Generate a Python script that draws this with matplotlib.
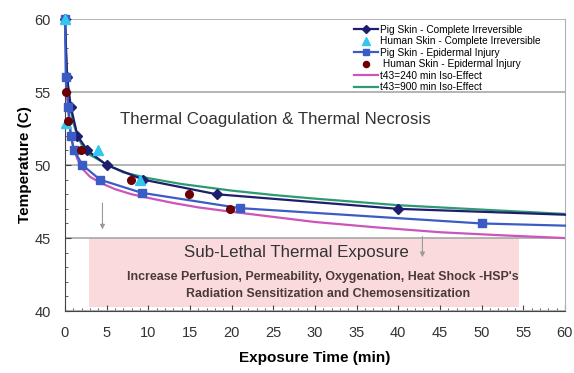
import matplotlib.pyplot as plt
from matplotlib.patches import Rectangle
from matplotlib.ticker import MultipleLocator

plt.rcParams['font.family'] = ['Liberation Sans', 'DejaVu Sans']

# Pig skin - complete irreversible (markers), line extends to 60 min
pig_complete_t = [0, 0.25, 0.7, 1.5, 2.7, 5.0, 9.4, 18.2, 40.0, 60.0]
pig_complete_T = [60, 56, 54, 52, 51, 50, 49, 48, 47, 46.6]

# Human skin - complete irreversible (markers only)
human_complete_t = [0, 0.1, 4.0, 9.0]
human_complete_T = [60, 52.9, 51, 49]

# Pig skin - epidermal injury (markers), line extends to 60 min
pig_epi_t = [0, 0.1, 0.4, 0.7, 1.1, 2.1, 4.2, 9.2, 21.0, 50.0, 60.0]
pig_epi_T = [60, 56, 54, 52, 51, 50, 49, 48.1, 47.05, 46.0, 45.85]

# Human skin - epidermal injury (markers only)
human_epi_t = [0.1, 0.4, 1.9, 7.9, 14.9, 19.8]
human_epi_T = [55, 53, 51, 49, 48, 47]

# iso-effect curves
iso240_t = [0.02, 0.1, 0.2, 0.35, 0.5, 0.75, 1.0, 1.5, 2.0, 3.0, 4.2, 6.0, 8.0, 10.0,
            13.0, 16.0, 20.0, 25.0, 30.0, 37.0, 45.0, 52.0, 60.0]
iso240_T = [60, 57.2, 55.5, 54.0, 52.9, 51.9, 51.2, 50.4, 49.8, 49.2, 48.8, 48.35, 48.0, 47.75,
            47.4, 47.1, 46.8, 46.45, 46.1, 45.75, 45.4, 45.2, 45.0]
iso900_t = [0.02, 0.1, 0.2, 0.35, 0.5, 0.75, 1.0, 1.5, 2.0, 3.0, 5.0, 7.0, 10.0, 14.0,
            20.0, 25.0, 30.0, 40.0, 50.0, 60.0]
iso900_T = [60, 58.0, 56.8, 55.4, 54.6, 53.6, 52.9, 52.0, 51.4, 50.7, 50.05, 49.5, 49.1, 48.7,
            48.25, 47.95, 47.7, 47.25, 46.95, 46.65]

fig = plt.figure(figsize=(5.74, 3.73), dpi=100)
ax = fig.add_axes([0.1132, 0.166, 0.871, 0.783])

# sub-lethal zone
ax.add_patch(Rectangle((2.9, 40.3), 51.6, 4.7, facecolor='#fadadd', edgecolor='none', zorder=0))

ax.plot(pig_complete_t, pig_complete_T, color='#1e1e6e', lw=1.6, marker='D', ms=5.5,
        markevery=list(range(len(pig_complete_t) - 1)), label='Pig Skin - Complete Irreversible',
        zorder=4, clip_on=False)
ax.plot(human_complete_t, human_complete_T, ls='none', color='#33c6ee', marker='^', ms=7,
        label='Human Skin - Complete Irreversible', zorder=5, clip_on=False)
ax.plot(pig_epi_t, pig_epi_T, color='#3a5cc4', lw=1.6, marker='s', ms=5.5,
        markevery=list(range(len(pig_epi_t) - 1)), label='Pig Skin - Epidermal Injury',
        zorder=4, clip_on=False)
ax.plot(human_epi_t, human_epi_T, ls='none', color='#6a0000', marker='o', ms=5.5,
        label=' Human Skin - Epidermal Injury', zorder=5, clip_on=False)
ax.plot(iso240_t, iso240_T, color='#cc55bb', lw=1.6, label='t43=240 min Iso-Effect', zorder=3)
ax.plot(iso900_t, iso900_T, color='#2e9a72', lw=1.6, label='t43=900 min Iso-Effect', zorder=3)

ax.set_xlim(0, 60)
ax.set_ylim(40, 60)
ax.xaxis.set_major_locator(MultipleLocator(5))
ax.xaxis.set_minor_locator(MultipleLocator(1))
ax.yaxis.set_major_locator(MultipleLocator(5))
ax.yaxis.set_minor_locator(MultipleLocator(1))
ax.tick_params(which='both', direction='in', color='#444444')
ax.tick_params(which='major', length=4, labelsize=10.5, labelcolor='#333333')
ax.tick_params(axis='x', which='major', pad=11)
ax.tick_params(axis='y', which='major', pad=10)
ax.tick_params(which='minor', length=2.5)
ax.grid(axis='y', which='major', color='#a8a8a8', lw=1.2, zorder=1)

ax.spines['top'].set_visible(False)
ax.spines['right'].set_color('#b0b0b0')
ax.spines['left'].set_color('#444444')
ax.spines['bottom'].set_color('#444444')

ax.set_xlabel('Exposure Time (min)', fontsize=11, fontweight='bold', labelpad=8)
ax.set_ylabel('Temperature (C)', fontsize=11, fontweight='bold', labelpad=2)

ax.text(25.2, 53.1, 'Thermal Coagulation & Thermal Necrosis', fontsize=12.2, color='#333333',
        ha='center', va='center')
ax.text(27.8, 44.0, 'Sub-Lethal Thermal Exposure', fontsize=12.2, color='#333333',
        ha='center', va='center')
ax.text(30.9, 42.3, "Increase Perfusion, Permeability, Oxygenation, Heat Shock -HSP's",
        fontsize=8.9, fontweight='bold', color='#4a3a3a', ha='center', va='center')
ax.text(31.6, 41.2, 'Radiation Sensitization and Chemosensitization',
        fontsize=8.9, fontweight='bold', color='#4a3a3a', ha='center', va='center')

arrow = dict(arrowstyle='-|>', color='#999999', lw=0.8, mutation_scale=7)
ax.annotate('', xy=(4.5, 45.4), xytext=(4.5, 47.6), arrowprops=arrow)
ax.annotate('', xy=(42.9, 43.5), xytext=(42.9, 45.3), arrowprops=arrow)

ax.legend(loc='upper right', bbox_to_anchor=(0.965, 1.005), frameon=False, fontsize=7.3,
          handlelength=2.3, handletextpad=0.2, labelspacing=0.15, borderaxespad=0.3,
          markerscale=0.8)

plt.savefig('out.png', dpi=100)
